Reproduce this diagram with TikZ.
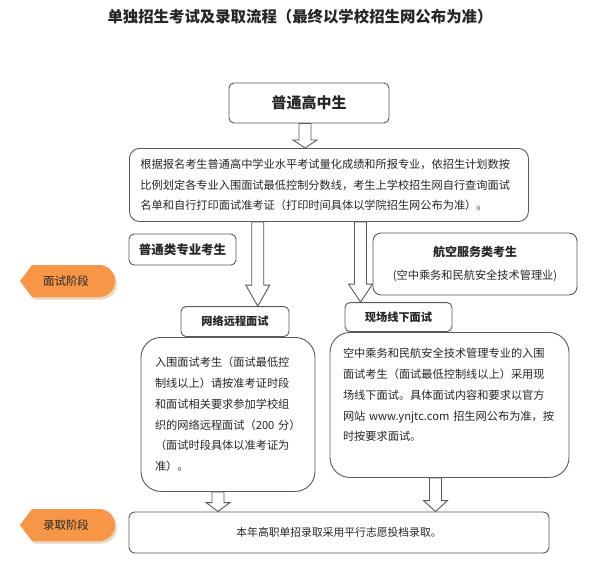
\documentclass[tikz,border=0pt]{standalone}
\usepackage{fontspec}
\setmainfont{Noto Sans CJK SC}
\usetikzlibrary{positioning, calc}
\definecolor{frame}{HTML}{595959}
\definecolor{ink}{HTML}{262626}
\definecolor{stage}{HTML}{F79646}
\definecolor{stageshade}{HTML}{EAD6BD}
\tikzset{
  box/.style = {rectangle, rounded corners=5pt, draw=frame, line width=0.9pt,
    fill=white, text=ink, align=center, inner sep=0pt},
  headbox/.style = {box, font=\fontsize{15}{18}\selectfont\bfseries},
  tagbox/.style = {box, font=\fontsize{11.2}{14}\selectfont\bfseries},
  textbox/.style = {box, align=left, font=\fontsize{11.2}{20.7}\selectfont},
  stagelabel/.style = {text=ink, font=\fontsize{11.5}{14}\selectfont},
  hollow/.style = {draw=frame, line width=0.9pt, fill=white},
}
% hollow down arrow: [head length]{from}{to}
\newcommand{\hollowdown}[3][10]{%
  \draw[hollow] let \p1=(#2), \p2=(#3) in
    (\x1-6pt,\y1) -- (\x1-6pt,\y2+#1pt) -- (\x1-12pt,\y2+#1pt) -- (\x1,\y2)
    -- (\x1+12pt,\y2+#1pt) -- (\x1+6pt,\y2+#1pt) -- (\x1+6pt,\y1) -- cycle;}
% orange stage tag: {name}{y}{text}
\newcommand{\stagetag}[3]{%
  \fill[stageshade] (22,#2+2.5) -- (34,#2-13.5) -- (101,#2-13.5)
    arc[start angle=90, end angle=-90, radius=16pt] -- (34,#2+18.5) -- cycle;
  \fill[stage] (20,#2) -- (32,#2-16) -- (99,#2-16)
    arc[start angle=90, end angle=-90, radius=16pt] -- (32,#2+16) -- cycle;
  \node[stagelabel] (#1) at (66,#2) {#3};}

\begin{document}
\begin{tikzpicture}[x=1pt, y=-1pt]
\fill[white] (0,0) rectangle (590,566);
\useasboundingbox (0,0) rectangle (590,566);

\node[text=ink, font=\fontsize{15.4}{18}\selectfont\bfseries] (title) at (300,17)
  {单独招生考试及录取流程（最终以学校招生网公布为准）};

\node[headbox, minimum width=160pt, minimum height=40pt] (start) at (309,103) {普通高中生};
\node[textbox, anchor=north west, rounded corners=10pt, minimum width=399pt,
  minimum height=73pt, text width=377pt, inner xsep=11pt] (intro) at (129,148)
  {根据报名考生普通高中学业水平考试量化成绩和所报专业，依招生计划数按\\
   比例划定各专业入围面试最低控制分数线，考生上学校招生网自行查询面试\\
   名单和自行打印面试准考证（打印时间具体以学院招生网公布为准）。};

\node[tagbox, font=\fontsize{12.5}{15}\selectfont\bfseries, minimum width=107pt,
  minimum height=31pt] (general) at (182.5,249.5) {普通类专业考生};
\node[box, rounded corners=8pt, minimum width=204pt, minimum height=62pt,
  font=\fontsize{11.2}{23}\selectfont] (aviation) at (475,264)
  {{\bfseries\fontsize{12}{23}\selectfont 航空服务类考生}\\(空中乘务和民航安全技术管理业)};

\node[textbox, anchor=north, rounded corners=20pt, minimum width=174pt, minimum height=154pt,
  text width=146pt, inner xsep=14pt] (leftpanel) at (228,337)
  {入围面试考生（面试最低控\\
   制线以上）请按准考证时段\\
   和面试相关要求参加学校组\\
   织的网络远程面试（200 分）\\
   （面试时段具体以准考证为\\
   准）。};
\node[textbox, anchor=north, rounded corners=20pt, minimum width=239pt, minimum height=145pt,
  text width=213pt, inner xsep=13pt] (rightpanel) at (449.5,332)
  {空中乘务和民航安全技术管理专业的入围\\
   面试考生（面试最低控制线以上）采用现\\
   场线下面试。具体面试内容和要求以官方\\
   网站 www.ynjtc.com 招生网公布为准，按\\
   时按要求面试。\\ ~};
\node[tagbox, minimum width=108pt, minimum height=30pt, above=0pt of leftpanel,
  xshift=7pt] (remote) {网络远程面试};
\node[tagbox, minimum width=107pt, minimum height=29pt, above=0pt of rightpanel,
  xshift=-51pt] (onsite) {现场线下面试};

\node[box, rounded corners=6pt, minimum width=420pt, minimum height=41pt,
  font=\fontsize{10.8}{13}\selectfont] (admit) at (339,532.5) {本年高职单招录取采用平行志愿投档录取。};

\stagetag{interview}{281}{面试阶段}
\stagetag{admission}{525}{录取阶段}

\hollowdown[8]{$(start.south)+(-4,0)$}{intro.north}
\hollowdown[21]{$(intro.south west)!0.322!(intro.south east)$}{remote.north}
\hollowdown[18]{$(intro.south west)!0.579!(intro.south east)$}{onsite.north}
\hollowdown[9]{$(leftpanel.south)+(-10,0)$}{admit.north}
\hollowdown[11]{$(rightpanel.south)+(-14,0)$}{admit.north}
\end{tikzpicture}
\end{document}
